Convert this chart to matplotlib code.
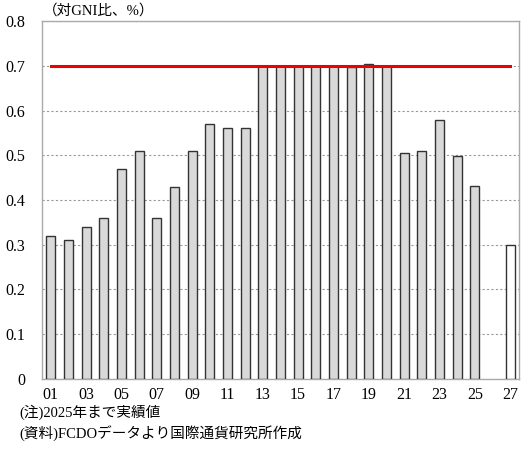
import matplotlib
matplotlib.use("Agg")
import matplotlib.pyplot as plt
import numpy as np

plt.rcParams['font.family'] = ['Liberation Serif', 'Noto Sans CJK JP']

# 年（2001-2027）
years = list(range(2001, 2028))
# ODA対GNI比（%）、2026年はデータなし
actual = [0.32, 0.31, 0.34, 0.36, 0.47, 0.51, 0.36, 0.43, 0.51, 0.57,
          0.56, 0.56, 0.70, 0.70, 0.70, 0.70, 0.70, 0.697, 0.704, 0.70,
          0.505, 0.51, 0.58, 0.498, 0.432, None, None]
plan = [None] * 26 + [0.30]
target = 0.7
xtick_labels = [f"{y % 100:02d}" for y in years[::2]]

fig = plt.figure(figsize=(5.21, 4.5), dpi=100)
ax = fig.add_axes([0.0806, 0.158, 0.9154, 0.795])

x = np.arange(len(years))
act_x = [i for i, v in enumerate(actual) if v is not None]
act_v = [v for v in actual if v is not None]
ax.bar(act_x, act_v, width=0.5, color='#d9d9d9', edgecolor='#333333',
       linewidth=1.0, zorder=3)
plan_x = [i for i, v in enumerate(plan) if v is not None]
plan_v = [v for v in plan if v is not None]
ax.bar(plan_x, plan_v, width=0.5, color='white', edgecolor='#333333',
       linewidth=1.0, zorder=3)

ax.plot([x[0], x[-1]], [target, target], color='#ee0000', lw=2.2, zorder=4)

ax.set_xlim(-0.5, len(years) - 0.5)
ax.set_ylim(0, 0.8)
ax.set_yticks(np.arange(0, 0.81, 0.1))
ax.set_yticklabels(['0'] + [f"{v:.1f}" for v in np.arange(0.1, 0.81, 0.1)])
ax.set_xticks(x[::2])
ax.set_xticklabels(xtick_labels)
ax.tick_params(length=0, labelsize=11.5)
ax.tick_params(axis='x', pad=6)
ax.tick_params(axis='y', pad=12)
ax.yaxis.grid(True, linestyle=(0, (2, 2)), color='#999999', lw=0.8, zorder=0)
for s in ax.spines.values():
    s.set_color('#aaaaaa')
    s.set_linewidth(1.0)

fig.text(0.082, 0.962, '（対GNI比、%）', fontsize=10.5, va='bottom', ha='left')
fig.text(0.038, 0.084, '(注)2025年まで実績値', fontsize=10.5, va='center')
fig.text(0.038, 0.036, '(資料)FCDOデータより国際通貨研究所作成', fontsize=10.5, va='center')

fig.savefig('out.png', dpi=100)
